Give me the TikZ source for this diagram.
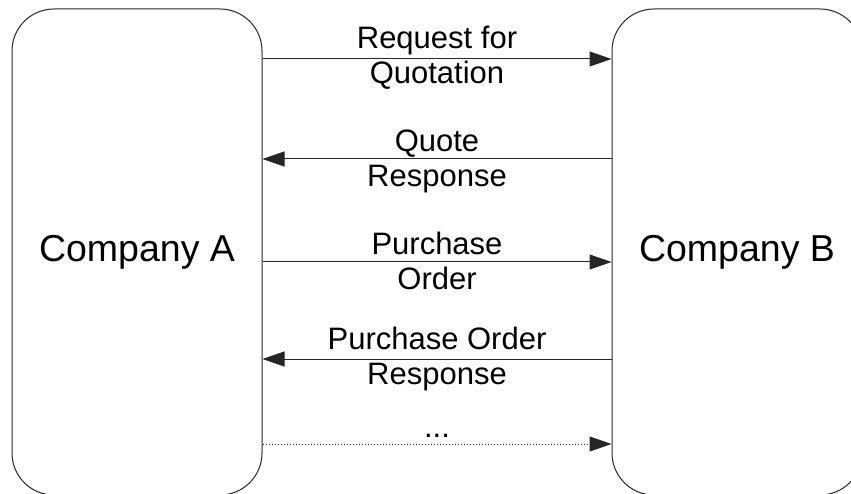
\documentclass[tikz,border=0pt]{standalone}
\usepackage{fontspec}
\setmainfont{Liberation Sans}
\usetikzlibrary{arrows.meta}

\tikzset{
  party/.style={draw=black!85, line width=1pt, rounded corners=42pt,
    minimum width=250pt, minimum height=486pt, inner sep=0pt,
    font=\fontsize{37.5pt}{44pt}\selectfont},
  msg/.style={draw=black!85, line width=1pt,
    -{Triangle[length=22pt,width=15pt]}},
  msgdots/.style={msg, dash pattern=on 1.5pt off 1.5pt},
  msglabel/.style={align=center, inner sep=0pt,
    font=\fontsize{31pt}{35pt}\selectfont}
}

\begin{document}
\begin{tikzpicture}[x=1pt,y=-1pt]
  \useasboundingbox (0,0) rectangle (851,494);
  \clip (0,0) rectangle (851,494);

  % the two trading partners
  \node[party] (A) at (137,252) {Company A};
  \node[party] (B) at (737,252) {Company B};

  % heights of the message lines
  \coordinate (l1) at (0,59);
  \coordinate (l2) at (0,159);
  \coordinate (l3) at (0,262);
  \coordinate (l4) at (0,359);
  \coordinate (l5) at (0,444);

  % messages
  \draw[msg] (A.east |- l1) -- (B.west |- l1);
  \draw[msg] (B.west |- l2) -- (A.east |- l2);
  \draw[msg] (A.east |- l3) -- (B.west |- l3);
  \draw[msg] (B.west |- l4) -- (A.east |- l4);
  \draw[msgdots] (A.east |- l5) -- (B.west |- l5);

  % message labels
  \node[msglabel] (t1) at (437,58) {Request for\\Quotation};
  \node[msglabel] (t2) at (437,161) {Quote\\Response};
  \node[msglabel] (t3) at (437,261) {Purchase\\Order};
  \node[msglabel] (t4) at (437,359) {Purchase Order\\Response};
  \node[msglabel, anchor=base] (t5) at (437,437) {...};
\end{tikzpicture}
\end{document}
